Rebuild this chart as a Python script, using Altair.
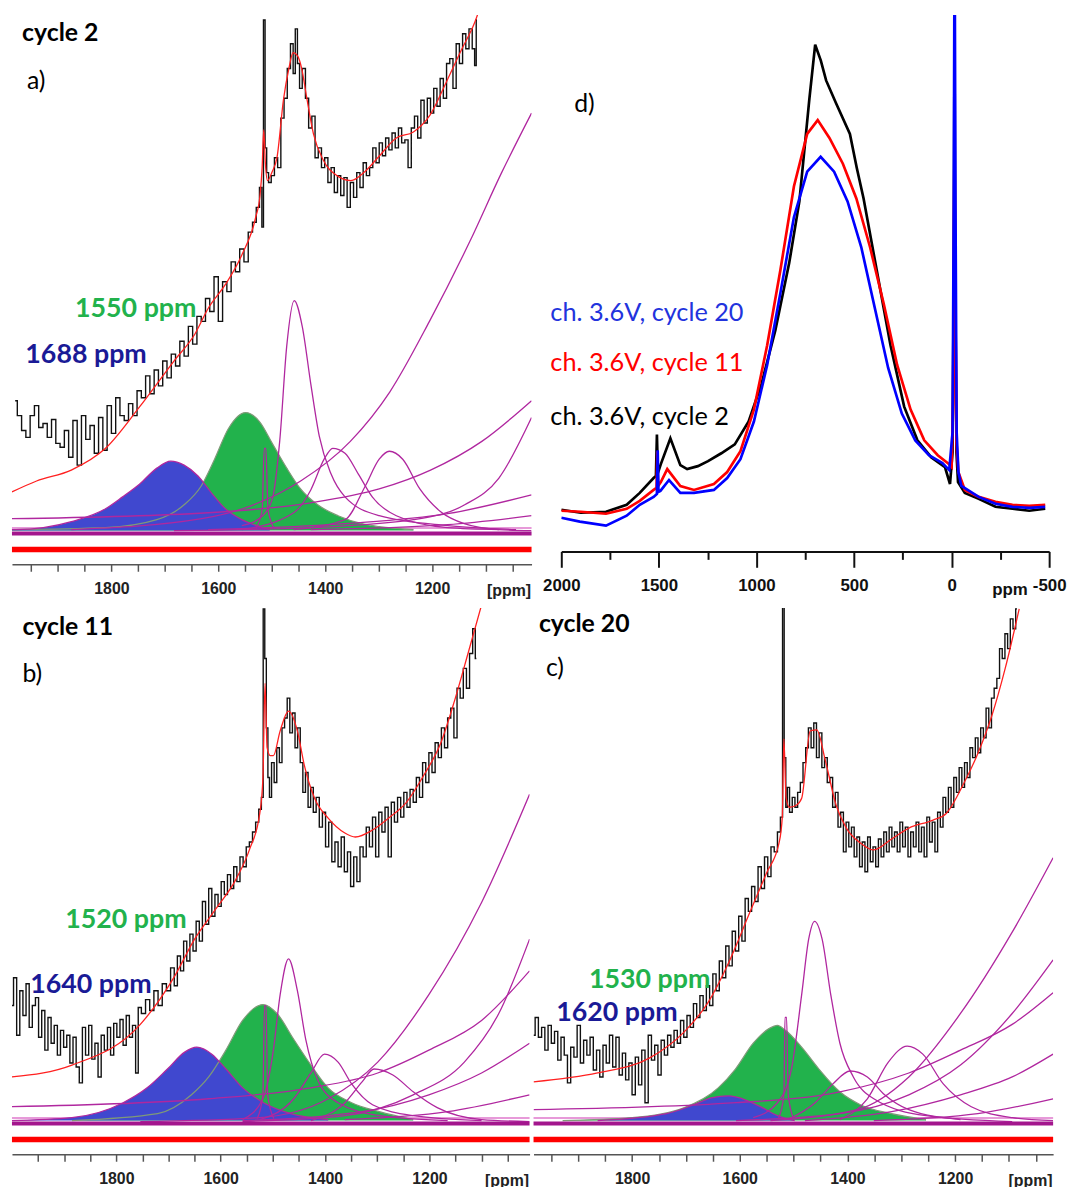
import altair as alt
import pandas as pd

MAG = "#b0279f"
PINK = "#e79ad9"
GREEN = "#22b24c"
BLUE_FILL = "#4048cf"
GREEN_TXT = "#22b24c"
BLUE_TXT = "#1a1a96"

# ---------------- tick positions ----------------
TICKS_ABC = [1950, 1900, 1850, 1800, 1750, 1700, 1650, 1600, 1550, 1500, 1450,
             1400, 1350, 1300, 1250, 1200, 1150, 1100, 1050]
TICKS_D_MAJOR = [2000, 1500, 1000, 500, 0, -500]
TICKS_D_MINOR = [1750, 1250, 750, 250, -250]

# ---------------- panel a (cycle 2) ----------------
A_SPEC_PPM = [1980, 1972, 1964, 1956, 1948, 1940, 1932, 1924, 1916, 1908, 1900, 1892, 1884, 1876, 1868,
              1860, 1852, 1844, 1836, 1828, 1820, 1812, 1804, 1796, 1788, 1780, 1772, 1764, 1756, 1748,
              1740, 1732, 1724, 1716, 1708, 1700, 1692, 1684, 1676, 1668, 1660, 1652, 1644, 1636, 1628,
              1620, 1612, 1604, 1596, 1588, 1580, 1572, 1564, 1556, 1548, 1540, 1532, 1526, 1520, 1517,
              1514, 1511, 1508, 1504, 1498, 1492, 1486, 1480, 1474, 1468, 1462, 1458, 1454, 1450, 1446,
              1440, 1434, 1428, 1422, 1416, 1410, 1404, 1398, 1392, 1386, 1380, 1374, 1368, 1362, 1356,
              1350, 1344, 1338, 1332, 1326, 1320, 1314, 1308, 1302, 1296, 1290, 1284, 1278, 1272, 1266,
              1260, 1254, 1248, 1242, 1236, 1230, 1224, 1218, 1212, 1206, 1200, 1194, 1188, 1182, 1176,
              1170, 1164, 1158, 1152, 1146, 1140, 1134, 1128, 1122, 1119, 1116]
A_SPEC_I = [165, 150, 135, 128, 150, 160, 138, 142, 128, 146, 122, 118, 135, 108, 145,
            100, 150, 126, 140, 112, 148, 115, 160, 132, 168, 150, 145, 162, 150, 175,
            168, 190, 172, 196, 180, 205, 188, 212, 200, 225, 210, 240, 222, 250, 245,
            268, 255, 290, 245, 285, 275, 305, 295, 318, 305, 335, 345, 360, 380, 340,
            549, 420, 395, 385, 392, 410, 400, 450, 470, 500, 525, 495, 540, 505, 480,
            500, 470, 440, 452, 410, 420, 400, 410, 385, 400, 375, 392, 372, 390, 360,
            385, 370, 395, 380, 405, 392, 400, 420, 405, 425, 412, 430, 418, 435, 420,
            440, 425, 428, 400, 440, 452, 430, 468, 445, 470, 455, 480, 462, 490, 470,
            505, 510, 480, 525, 505, 535, 520, 540, 520, 503, 549]
A_FIT_PPM = [1986, 1940, 1875, 1811, 1747, 1683, 1644, 1618, 1587, 1556, 1530, 1522, 1518, 1515, 1512,
             1508, 1500, 1490, 1478, 1468, 1460, 1452, 1444, 1435, 1422, 1404, 1378, 1352, 1326, 1300,
             1267, 1235, 1204, 1172, 1146, 1120, 1105]
A_FIT_I = [73, 84, 95, 117, 159, 205, 232, 259, 282, 312, 350, 372, 400, 438, 405,
           387, 395, 411, 469, 500, 516, 513, 500, 472, 434, 408, 392, 387, 396, 411,
           430, 436, 453, 488, 518, 547, 570]
A_BLUE_PPM = [1986, 1978, 1875, 1811, 1779, 1747, 1715, 1689, 1664, 1638, 1613, 1587, 1556, 1517, 1504]
A_BLUE_I = [35, 35, 43, 56, 68, 81, 97, 104, 100, 89, 72, 56, 45, 37, 35]
A_GREEN_PPM = [1986, 1811, 1715, 1664, 1632, 1607, 1581, 1549, 1523, 1498, 1472, 1446, 1414, 1376, 1331, 1299, 1235]
A_GREEN_I = [35, 37, 45, 60, 79, 106, 137, 153, 144, 121, 97, 76, 60, 49, 41, 38, 35]
A_P1_PPM = [1556, 1517, 1498, 1485, 1472, 1458, 1443, 1427, 1411, 1389, 1363, 1299, 1171, 1043]
A_P1_I = [39, 49, 68, 125, 220, 266, 240, 182, 129, 91, 68, 49, 39, 35]
A_P2_PPM = [1556, 1459, 1427, 1402, 1386, 1363, 1338, 1312, 1267, 1171, 1075]
A_P2_I = [35, 52, 75, 106, 117, 112, 91, 68, 49, 37, 35]
A_P3_PPM = [1459, 1363, 1325, 1299, 1280, 1255, 1223, 1184, 1140, 1075, 1014]
A_P3_I = [35, 45, 79, 106, 114, 106, 76, 53, 41, 35, 34]
A_P4_PPM = [1530, 1518, 1514, 1511, 1507, 1495]
A_P4_I = [36, 55, 117, 117, 55, 36]
A_T1_PPM = [1875, 1631, 1539, 1446, 1353, 1279, 1205, 1130, 1070, 1014]
A_T1_I = [35, 46, 59, 84, 124, 174, 245, 325, 395, 455]
A_T2_PPM = [1986, 1619, 1427, 1299, 1203, 1107, 1014]
A_T2_I = [46, 52, 62, 76, 95, 124, 165]
A_T3_PPM = [1683, 1427, 1235, 1139, 1075, 1014]
A_T3_I = [34, 37, 45, 60, 87, 148]
A_T4_PPM = [1619, 1363, 1171, 1014]
A_T4_I = [35, 41, 51, 70]
A_T5_PPM = [1427, 1171, 1014]
A_T5_I = [35, 40, 49]

# ---------------- panel b (cycle 11) ----------------
B_SPEC_PPM = [2000, 1994, 1988, 1982, 1976, 1970, 1964, 1958, 1952, 1946, 1940, 1934, 1928, 1922, 1916,
              1910, 1904, 1898, 1892, 1886, 1880, 1874, 1868, 1862, 1856, 1850, 1844, 1838, 1832, 1826,
              1820, 1814, 1808, 1802, 1796, 1790, 1784, 1778, 1772, 1766, 1760, 1756, 1748, 1740, 1732,
              1724, 1716, 1708, 1700, 1692, 1686, 1680, 1674, 1668, 1662, 1656, 1650, 1644, 1638, 1632,
              1626, 1620, 1614, 1608, 1602, 1596, 1590, 1584, 1578, 1572, 1566, 1560, 1554, 1548, 1542,
              1536, 1530, 1524, 1520, 1517, 1514, 1511, 1508, 1505, 1500, 1495, 1490, 1485, 1480, 1475,
              1470, 1465, 1460, 1455, 1450, 1445, 1440, 1435, 1430, 1425, 1420, 1414, 1408, 1402, 1396,
              1390, 1384, 1378, 1372, 1366, 1360, 1354, 1348, 1342, 1336, 1330, 1324, 1318, 1312, 1306,
              1300, 1294, 1288, 1282, 1276, 1270, 1264, 1258, 1252, 1246, 1240, 1234, 1228, 1222, 1216,
              1210, 1204, 1198, 1192, 1186, 1180, 1174, 1168, 1162, 1156, 1150, 1144, 1138, 1132, 1126,
              1120, 1114, 1110]
B_SPEC_I = [150, 178, 120, 165, 140, 172, 128, 150, 158, 118, 145, 105, 138, 112, 130,
            100, 125, 108, 120, 92, 118, 88, 72, 128, 100, 130, 96, 112, 78, 120,
            105, 128, 100, 132, 118, 136, 110, 140, 118, 130, 82, 148, 142, 156, 145,
            165, 150, 172, 165, 188, 170, 200, 185, 215, 195, 222, 205, 235, 215, 255,
            232, 268, 240, 262, 250, 275, 262, 282, 268, 290, 275, 300, 290, 310, 315,
            325, 335, 348, 360, 550, 500, 430, 380, 360, 395, 375, 410, 395, 430, 440,
            460, 425, 445, 410, 430, 395, 365, 385, 350, 370, 345, 360, 330, 345, 310,
            335, 295, 315, 290, 320, 285, 305, 270, 300, 275, 310, 300, 330, 310, 340,
            300, 345, 325, 350, 300, 355, 335, 360, 340, 365, 350, 368, 355, 380, 360,
            395, 375, 405, 385, 415, 400, 430, 410, 440, 450, 420, 470, 460, 490, 470,
            505, 530, 500]
B_FIT_PPM = [2000, 1885, 1754, 1689, 1650, 1610, 1571, 1545, 1525, 1519, 1515, 1511, 1505, 1499, 1486,
             1470, 1453, 1440, 1420, 1394, 1362, 1342, 1309, 1276, 1244, 1211, 1178, 1152, 1126, 1100]
B_FIT_I = [78, 90, 131, 179, 217, 247, 277, 307, 344, 380, 475, 410, 402, 402, 427,
           447, 427, 393, 359, 339, 324, 320, 327, 340, 355, 382, 415, 457, 505, 554]
B_BLUE_PPM = [2000, 1885, 1787, 1741, 1702, 1669, 1646, 1617, 1590, 1558, 1518, 1466, 1394]
B_BLUE_I = [34, 37, 52, 67, 86, 103, 108, 101, 86, 67, 52, 41, 35]
B_GREEN_PPM = [1885, 1721, 1656, 1623, 1590, 1558, 1519, 1492, 1460, 1427, 1394, 1349, 1296, 1231]
B_GREEN_I = [34, 41, 60, 78, 105, 135, 151, 142, 116, 90, 67, 52, 43, 35]
B_P1_PPM = [1558, 1519, 1499, 1486, 1470, 1453, 1437, 1414, 1375, 1296, 1165]
B_P1_I = [35, 56, 105, 161, 197, 165, 116, 75, 52, 39, 34]
B_P2_PPM = [1525, 1460, 1427, 1401, 1375, 1349, 1309, 1231, 1100]
B_P2_I = [35, 56, 82, 101, 93, 71, 50, 39, 34]
B_P3_PPM = [1427, 1362, 1329, 1306, 1270, 1231, 1185, 1100, 1008]
B_P3_I = [34, 52, 73, 86, 80, 63, 47, 35, 33]
B_P4_PPM = [1530, 1519, 1516, 1513, 1510, 1498]
B_P4_I = [36, 60, 150, 150, 60, 36]
B_T1_PPM = [1754, 1525, 1394, 1299, 1201, 1100, 1008]
B_T1_I = [33, 37, 56, 93, 161, 254, 363]
B_T2_PPM = [1558, 1362, 1231, 1133, 1067, 1008]
B_T2_I = [33, 39, 60, 93, 142, 217]
B_T3_PPM = [2000, 1623, 1427, 1299, 1201, 1100, 1008]
B_T3_I = [48, 56, 67, 82, 105, 135, 185]
B_T4_PPM = [1558, 1329, 1201, 1100, 1008]
B_T4_I = [34, 43, 60, 82, 112]
B_T5_PPM = [1362, 1165, 1008]
B_T5_I = [35, 43, 60]

# ---------------- panel c (cycle 20) ----------------
C_SPEC_PPM = [1983, 1977, 1971, 1965, 1959, 1953, 1947, 1941, 1935, 1929, 1923, 1917, 1911, 1905, 1899,
              1893, 1887, 1881, 1875, 1869, 1863, 1857, 1851, 1845, 1839, 1833, 1827, 1821, 1815, 1809,
              1803, 1797, 1791, 1785, 1779, 1773, 1767, 1761, 1755, 1749, 1743, 1737, 1731, 1725, 1719,
              1713, 1707, 1701, 1695, 1689, 1683, 1677, 1671, 1665, 1659, 1653, 1647, 1641, 1635, 1629,
              1623, 1617, 1611, 1605, 1599, 1593, 1587, 1581, 1575, 1569, 1563, 1557, 1551, 1545, 1539,
              1533, 1527, 1522, 1519, 1516, 1513, 1510, 1505, 1500, 1495, 1490, 1485, 1480, 1475, 1470,
              1465, 1460, 1455, 1450, 1445, 1440, 1435, 1430, 1425, 1420, 1415, 1410, 1405, 1400, 1395,
              1390, 1385, 1380, 1375, 1370, 1365, 1360, 1355, 1350, 1345, 1340, 1335, 1330, 1325, 1320,
              1315, 1310, 1305, 1300, 1295, 1290, 1285, 1280, 1275, 1270, 1265, 1260, 1255, 1250, 1245,
              1240, 1235, 1230, 1225, 1220, 1215, 1210, 1205, 1200, 1195, 1190, 1185, 1180, 1175, 1170,
              1165, 1160, 1155, 1150, 1145, 1140, 1135, 1130, 1125, 1120, 1115, 1110, 1105, 1100, 1095,
              1090, 1085]
C_SPEC_I = [120, 138, 118, 128, 105, 130, 112, 124, 95, 118, 100, 72, 108, 98, 130,
            92, 115, 100, 118, 85, 105, 78, 110, 92, 120, 88, 118, 80, 102, 75,
            92, 60, 98, 70, 105, 52, 120, 95, 110, 80, 115, 100, 120, 108, 125,
            112, 135, 118, 140, 128, 152, 138, 160, 145, 170, 150, 182, 165, 195, 178,
            210, 190, 225, 205, 240, 215, 258, 245, 270, 255, 290, 268, 300, 280, 310,
            305, 325, 340, 554, 400, 350, 370, 345, 360, 350, 365, 375, 395, 410, 430,
            410, 435, 400, 425, 390, 400, 375, 380, 350, 365, 330, 345, 305, 335, 310,
            330, 300, 320, 290, 315, 285, 320, 295, 310, 290, 318, 300, 325, 305, 330,
            310, 325, 305, 335, 310, 330, 300, 325, 310, 335, 305, 330, 300, 340, 315,
            335, 305, 345, 330, 360, 345, 370, 350, 380, 365, 390, 370, 395, 380, 410,
            400, 420, 405, 430, 420, 450, 430, 460, 470, 480, 510, 500, 525, 510, 540,
            530, 550]
C_FIT_PPM = [1983, 1864, 1768, 1704, 1659, 1620, 1582, 1550, 1527, 1521, 1518, 1514, 1508, 1495, 1485,
             1469, 1457, 1441, 1421, 1402, 1376, 1351, 1318, 1286, 1241, 1216, 1184, 1158, 1132, 1107, 1081]
C_FIT_I = [73, 82, 97, 123, 153, 194, 243, 284, 314, 340, 419, 360, 350, 352, 359,
           427, 428, 397, 352, 329, 314, 307, 318, 329, 337, 344, 374, 404, 442, 490, 550]
C_BLUE_PPM = [1864, 1736, 1685, 1653, 1620, 1595, 1562, 1530, 1498]
C_BLUE_I = [34, 41, 50, 57, 59, 56, 48, 39, 34]
C_GREEN_PPM = [1929, 1800, 1704, 1640, 1608, 1575, 1545, 1530, 1515, 1485, 1453, 1414, 1376, 1318, 1254]
C_GREEN_I = [34, 37, 47, 67, 86, 112, 127, 130, 125, 108, 86, 63, 50, 41, 35]
C_P1_PPM = [1575, 1530, 1504, 1485, 1472, 1461, 1447, 1431, 1414, 1389, 1351, 1254, 1094]
C_P1_I = [37, 52, 86, 161, 217, 235, 217, 161, 112, 78, 56, 39, 33]
C_P2_PPM = [1511, 1460, 1427, 1395, 1363, 1331, 1286, 1190]
C_P2_I = [35, 52, 71, 84, 78, 60, 45, 35]
C_P3_PPM = [1414, 1363, 1324, 1289, 1260, 1222, 1170, 1094, 1018]
C_P3_I = [35, 56, 93, 109, 101, 71, 48, 37, 34]
C_P4_PPM = [1528, 1518, 1516, 1513, 1510, 1500]
C_P4_I = [36, 60, 138, 138, 60, 36]
C_T1_PPM = [1543, 1382, 1286, 1190, 1094, 1018]
C_T1_I = [34, 45, 78, 142, 224, 299]
C_T2_PPM = [1607, 1414, 1286, 1190, 1094, 1018]
C_T2_I = [34, 41, 60, 90, 142, 196]
C_T3_PPM = [1983, 1607, 1414, 1286, 1190, 1094, 1018]
C_T3_I = [45, 52, 63, 82, 105, 131, 163]
C_T4_PPM = [1479, 1318, 1190, 1094, 1018]
C_T4_I = [34, 43, 60, 78, 101]
C_T5_PPM = [1351, 1158, 1018]
C_T5_I = [34, 41, 56]

# ---------------- panel d (overview) ----------------
D_BLACK_PPM = [2000, 1900, 1771, 1665, 1598, 1527, 1515, 1510, 1505, 1490, 1441, 1390, 1355, 1300, 1248,
               1180, 1111, 1040, 974, 903, 832, 780, 729, 699, 670, 643, 592, 521, 486, 451, 384, 313,
               243, 175, 105, 34, 8, -5, -12, -15, -18, -25, -33, -68, -139, -225, -312, -398, -480]
D_BLACK_I = [42, 39, 40, 47, 59, 74, 76, 118, 79, 88, 114, 87, 83, 86, 91,
             99, 108, 131, 169, 223, 291, 353, 456, 511, 495, 475, 452, 421, 387, 356, 284, 208,
             146, 112, 95, 85, 68, 100, 300, 541, 300, 100, 70, 59, 53, 45, 43, 41, 43]
D_RED_PPM = [2000, 1900, 1771, 1665, 1598, 1527, 1512, 1508, 1504, 1490, 1457, 1390, 1320, 1218, 1150,
             1082, 1013, 945, 877, 808, 740, 686, 626, 557, 488, 418, 348, 279, 210, 140, 71, 19,
             0, -8, -12, -15, -18, -25, -35, -68, -139, -225, -312, -398, -480]
D_RED_I = [41, 40, 38, 43, 51, 62, 64, 101, 66, 70, 83, 66, 62, 68, 80,
           101, 143, 208, 284, 368, 421, 435, 417, 391, 356, 307, 250, 188, 143, 112, 97, 89,
           85, 150, 320, 420, 300, 110, 80, 62, 55, 50, 47, 46, 47]
D_BLUE_PPM = [2000, 1905, 1771, 1665, 1598, 1527, 1510, 1506, 1502, 1492, 1448, 1390, 1320, 1218, 1150,
              1082, 1013, 945, 877, 808, 740, 671, 602, 533, 463, 394, 325, 255, 186, 116, 47, 12,
              -5, -11, -14, -17, -20, -26, -35, -50, -139, -225, -312, -398, -480]
D_BLUE_I = [34, 30, 26, 36, 47, 55, 58, 102, 60, 61, 72, 59, 59, 62, 74,
            93, 131, 188, 261, 337, 383, 398, 383, 353, 307, 246, 185, 139, 112, 97, 89, 82,
            120, 350, 541, 541, 350, 120, 80, 66, 55, 48, 45, 44, 45]

BASE_LEVEL = 34      # component baseline (fills start here)
BAND_LEVEL = 31      # thick purple baseline band
PINK_LEVEL = 36.5    # pink baseline line
RED_BAR_LEVEL = 15   # thick red bar


def cdf(ppm, vals, name="c"):
    return pd.DataFrame({"ppm": ppm, "I": vals, "curve": name, "base": BASE_LEVEL})


def comps_df(pairs):
    frames = [cdf(p, v, f"c{i}") for i, (p, v) in enumerate(pairs)]
    return pd.concat(frames, ignore_index=True)


def label(x, y, text, xv, yv, color, size, weight="normal", font="Lato"):
    return alt.Chart(pd.DataFrame({"ppm": [xv], "I": [yv]})).mark_text(
        text=text, align="left", baseline="alphabetic", color=color,
        fontSize=size, fontWeight=weight, font=font
    ).encode(x=x, y=y)


def hrule(y, level, color, width):
    return alt.Chart(pd.DataFrame({"I": [level]})).mark_rule(color=color, strokeWidth=width).encode(y=y)


def nmr_panel(dom, w, h, spec, fit, blue, green, comps, texts):
    ax = alt.Axis(values=TICKS_ABC,
                  labelExpr="datum.value % 200 === 0 ? '' + datum.value : ''",
                  labelFont="Liberation Sans", labelFontSize=16, labelFontWeight="bold",
                  labelColor="#222", labelPadding=9, labelFlush=False, labelOverlap=False,
                  domainColor="#555", domainWidth=1.5, tickColor="#555", tickWidth=1.5,
                  tickSize=7, grid=False,
                  title="[ppm]", titleFont="Liberation Sans", titleFontSize=16,
                  titleFontWeight="bold", titleColor="#222", titleX=w - 1, titleY=26,
                  titleAlign="right", titleBaseline="middle", titleAngle=0)
    x = alt.X("ppm:Q", scale=alt.Scale(domain=dom, nice=False, zero=False), axis=ax)
    y = alt.Y("I:Q", scale=alt.Scale(domain=[0, h], nice=False, zero=False), axis=None)
    y2 = alt.Y2("base:Q")

    layers = [
        hrule(y, PINK_LEVEL, PINK, 2),
        alt.Chart(green).mark_area(color=GREEN, interpolate="monotone", opacity=1).encode(x=x, y=y, y2=y2),
        alt.Chart(blue).mark_area(color=BLUE_FILL, interpolate="monotone", opacity=1).encode(x=x, y=y, y2=y2),
        alt.Chart(green).mark_line(color="#7f9a78", strokeWidth=1.2, interpolate="monotone").encode(x=x, y=y),
        alt.Chart(blue).mark_line(color=MAG, strokeWidth=1.3, interpolate="monotone").encode(x=x, y=y),
        alt.Chart(comps).mark_line(color=MAG, strokeWidth=1.3, interpolate="monotone", clip=True).encode(
            x=x, y=y, detail="curve:N"),
        hrule(y, BAND_LEVEL, "#a3168d", 4),
        hrule(y, RED_BAR_LEVEL, "#ff0000", 5.5),
        alt.Chart(spec).mark_line(color="#111111", strokeWidth=1.4, interpolate="step", clip=True).encode(x=x, y=y),
        alt.Chart(fit).mark_line(color="#ff2020", strokeWidth=1.3, interpolate="monotone", clip=True).encode(x=x, y=y),
    ] + [label(x, y, *t) for t in texts]
    return alt.layer(*layers).properties(width=w, height=h)


# ---- panel a ----
panel_a = nmr_panel(
    [1986, 1014], 524, 554,
    cdf(A_SPEC_PPM, A_SPEC_I), cdf(A_FIT_PPM, A_FIT_I),
    cdf(A_BLUE_PPM, A_BLUE_I), cdf(A_GREEN_PPM, A_GREEN_I),
    comps_df([(A_P1_PPM, A_P1_I), (A_P2_PPM, A_P2_I), (A_P3_PPM, A_P3_I), (A_P4_PPM, A_P4_I),
              (A_T1_PPM, A_T1_I), (A_T2_PPM, A_T2_I), (A_T3_PPM, A_T3_I), (A_T4_PPM, A_T4_I),
              (A_T5_PPM, A_T5_I)]),
    [("cycle 2", 1967, 528, "black", 25, "bold"),
     ("a)", 1958, 479, "black", 25),
     ("1550 ppm", 1868, 249, GREEN_TXT, 27, "bold"),
     ("1688 ppm", 1961, 203, BLUE_TXT, 27, "bold")])

# ---- panel b ----
panel_b = nmr_panel(
    [2000, 1008], 522, 551,
    cdf(B_SPEC_PPM, B_SPEC_I), cdf(B_FIT_PPM, B_FIT_I),
    cdf(B_BLUE_PPM, B_BLUE_I), cdf(B_GREEN_PPM, B_GREEN_I),
    comps_df([(B_P1_PPM, B_P1_I), (B_P2_PPM, B_P2_I), (B_P3_PPM, B_P3_I), (B_P4_PPM, B_P4_I),
              (B_T1_PPM, B_T1_I), (B_T2_PPM, B_T2_I), (B_T3_PPM, B_T3_I), (B_T4_PPM, B_T4_I),
              (B_T5_PPM, B_T5_I)]),
    [("cycle 11", 1980, 524, "black", 25, "bold"),
     ("b)", 1980, 476, "black", 25),
     ("1520 ppm", 1898, 228, GREEN_TXT, 27, "bold"),
     ("1640 ppm", 1965, 163, BLUE_TXT, 27, "bold")])

# ---- panel c ----
panel_c = nmr_panel(
    [1983, 1018], 524, 551,
    cdf(C_SPEC_PPM, C_SPEC_I), cdf(C_FIT_PPM, C_FIT_I),
    cdf(C_BLUE_PPM, C_BLUE_I), cdf(C_GREEN_PPM, C_GREEN_I),
    comps_df([(C_P1_PPM, C_P1_I), (C_P2_PPM, C_P2_I), (C_P3_PPM, C_P3_I), (C_P4_PPM, C_P4_I),
              (C_T1_PPM, C_T1_I), (C_T2_PPM, C_T2_I), (C_T3_PPM, C_T3_I), (C_T4_PPM, C_T4_I),
              (C_T5_PPM, C_T5_I)]),
    [("cycle 20", 1973, 527, "black", 25, "bold"),
     ("c)", 1960, 482, "black", 25),
     ("1530 ppm", 1880, 168, GREEN_TXT, 27, "bold"),
     ("1620 ppm", 1941, 134, BLUE_TXT, 27, "bold")])

# ---- panel d ----
D_W, D_H = 492, 541
D_SCALE = alt.Scale(domain=[2000, -500], nice=False, zero=False)
d_major = alt.Axis(values=TICKS_D_MAJOR, orient="bottom",
                   labelExpr="'' + datum.value",
                   labelFont="Liberation Sans", labelFontSize=17, labelFontWeight="bold",
                   labelColor="#111", labelPadding=10, labelFlush=False, labelOverlap=False,
                   domainColor="#111", domainWidth=2, tickColor="#111", tickWidth=2,
                   tickSize=16, grid=False,
                   title="ppm", titleFont="Liberation Sans", titleFontSize=17, titleFontWeight="bold",
                   titleColor="#111", titleX=452, titleY=38, titleAlign="center",
                   titleBaseline="middle", titleAngle=0)
d_minor = alt.Axis(values=TICKS_D_MINOR, orient="bottom", labels=False, domain=False,
                   tickColor="#111", tickWidth=2, tickSize=8, grid=False, title="")
dx_major = alt.X("ppm:Q", scale=D_SCALE, axis=d_major)
dx_minor = alt.X("ppm:Q", scale=D_SCALE, axis=d_minor)
dx = alt.X("ppm:Q", scale=D_SCALE, axis=None)
dy = alt.Y("I:Q", scale=alt.Scale(domain=[0, D_H], nice=False, zero=False), axis=None)

panel_d = alt.layer(
    alt.Chart(cdf(D_BLACK_PPM, D_BLACK_I)).mark_line(color="#000000", strokeWidth=2.7, clip=True).encode(x=dx_major, y=dy),
    alt.Chart(cdf(D_RED_PPM, D_RED_I)).mark_line(color="#ff0000", strokeWidth=2.7, clip=True).encode(x=dx_minor, y=dy),
    alt.Chart(cdf(D_BLUE_PPM, D_BLUE_I)).mark_line(color="#0000ff", strokeWidth=2.7, clip=True).encode(x=dx, y=dy),
    label(dx, dy, "d)", 1934, 443, "black", 25),
    label(dx, dy, "ch. 3.6V, cycle 20", 2056, 232, "#2233dd", 25.5),
    label(dx, dy, "ch. 3.6V, cycle 11", 2056, 182, "#ff0000", 25.5),
    label(dx, dy, "ch. 3.6V, cycle 2", 2056, 127, "#000000", 25.5),
).resolve_axis(x="independent").properties(width=D_W, height=D_H)

row1 = alt.hconcat(panel_a, panel_d, spacing=30, bounds="flush")
row2 = alt.hconcat(panel_b, panel_c, spacing=4, bounds="flush")
chart = alt.vconcat(row1, row2, spacing=10).properties(
    padding={"left": 1, "top": 2, "right": 0, "bottom": 0}
).configure_view(stroke=None)

chart.save("out.html", embed_options={"renderer": "svg", "actions": False})
